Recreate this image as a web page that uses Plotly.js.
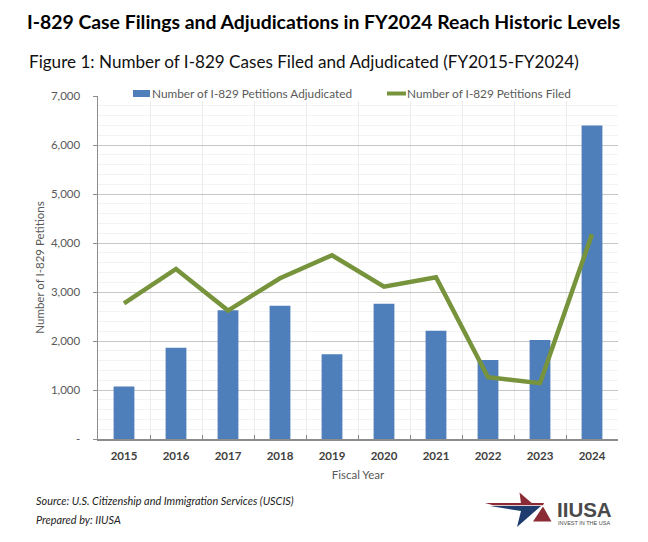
<!DOCTYPE html>
<html>
<head>
<meta charset="utf-8">
<script src="https://cdn.plot.ly/plotly-3.0.1.min.js"></script>
<style>html,body{margin:0;padding:0;background:#fff;}#chart{width:648px;height:542px;}</style>
</head>
<body>
<div id="chart"></div>
<script>
// ---- data ----
const years = ["2015","2016","2017","2018","2019","2020","2021","2022","2023","2024"];
const adjudicated = [1070, 1860, 2630, 2720, 1730, 2760, 2210, 1610, 2020, 6400];
const filed = [2770, 3470, 2620, 3280, 3750, 3110, 3300, 1260, 1140, 4180];
const yTickVals = [0, 1000, 2000, 3000, 4000, 5000, 6000, 7000];
const yTickText = ["-", "1,000", "2,000", "3,000", "4,000", "5,000", "6,000", "7,000"];
const seriesNames = ["Number of I-829 Petitions Adjudicated", "Number of I-829 Petitions Filed"];
const titleText = "I-829 Case Filings and Adjudications in FY2024 Reach Historic Levels";
const subtitleText = "Figure 1: Number of I-829 Cases Filed and Adjudicated (FY2015-FY2024)";
const sourceText = "Source: U.S. Citizenship and Immigration Services (USCIS)";
const preparedText = "Prepared by: IIUSA";

// ---- geometry helpers (pixel -> paper) ----
const L = 98, R = 30, T = 96, B = 103, W = 648, H = 542;
const PW = W - L - R, PH = H - T - B;
const px = X => (X - L) / PW;
const py = Y => (H - B - Y) / PH;

const FONT = "Lato, 'Open Sans', sans-serif";
const BLUE = "#4f7fbb";
const GREEN = "#77933c";

const traces = [
  {type: "bar", x: years, y: adjudicated, name: seriesNames[0],
   marker: {color: BLUE}, hoverinfo: "skip"},
  {type: "scatter", mode: "lines", x: years, y: filed, name: seriesNames[1],
   line: {color: GREEN, width: 4.5}, hoverinfo: "skip"}
];

const shapes = [
  // legend background covering top gridline
  {type: "rect", xref: "paper", yref: "paper", x0: px(99.5), x1: px(603), y0: py(101), y1: py(86),
   fillcolor: "#ffffff", line: {width: 0}, layer: "above"},
  {type: "rect", xref: "paper", yref: "paper", x0: px(133), x1: px(150), y0: py(97), y1: py(90),
   fillcolor: BLUE, line: {width: 0}, layer: "above"},
  {type: "line", xref: "paper", yref: "paper", x0: px(387), x1: px(406), y0: py(93.5), y1: py(93.5),
   line: {color: GREEN, width: 4}, layer: "above"},
  // logo: star pieces
  {type: "path", xref: "paper", yref: "paper", layer: "above", fillcolor: "#8b2b35", line: {width: 0},
   path: `M${px(519.5)},${py(492.5)} L${px(532)},${py(503.2)} L${px(521)},${py(503.2)} Z`},
  {type: "path", xref: "paper", yref: "paper", layer: "above", fillcolor: "#8b2b35", line: {width: 0},
   path: `M${px(485)},${py(503)} L${px(544)},${py(503)} L${px(543)},${py(505.3)} L${px(493)},${py(505.3)} Z`},
  {type: "path", xref: "paper", yref: "paper", layer: "above", fillcolor: "#1f3c6e", line: {width: 0},
   path: `M${px(490)},${py(506)} L${px(541)},${py(506)} L${px(517)},${py(527)} L${px(521)},${py(511)} Z`},
  {type: "path", xref: "paper", yref: "paper", layer: "above", fillcolor: "#8b2b35", line: {width: 0},
   path: `M${px(543)},${py(506.5)} L${px(551.5)},${py(521.5)} L${px(533)},${py(521.5)} Z`}
];

const annotations = [
  {xref: "paper", yref: "paper", x: px(27), y: py(62), xanchor: "left", yanchor: "middle",
   text: subtitleText, showarrow: false, font: {family: FONT, size: 17.1, color: "#111111"}},
  {xref: "paper", yref: "paper", x: px(150), y: py(93.5), xanchor: "left", yanchor: "middle",
   text: seriesNames[0], showarrow: false, font: {family: FONT, size: 11.8, color: "#595959"}},
  {xref: "paper", yref: "paper", x: px(405), y: py(93.5), xanchor: "left", yanchor: "middle",
   text: seriesNames[1], showarrow: false, font: {family: FONT, size: 11.8, color: "#595959"}},
  {xref: "paper", yref: "paper", x: px(34), y: py(500), xanchor: "left", yanchor: "middle",
   text: "<i>" + sourceText + "</i>", showarrow: false, font: {family: FONT, size: 10.9, color: "#222222"}},
  {xref: "paper", yref: "paper", x: px(34), y: py(519), xanchor: "left", yanchor: "middle",
   text: "<i>" + preparedText + "</i>", showarrow: false, font: {family: FONT, size: 10.9, color: "#222222"}},
  {xref: "paper", yref: "paper", x: px(555), y: py(510), xanchor: "left", yanchor: "middle",
   text: "<b>IIUSA</b>", showarrow: false, font: {family: "'Liberation Sans', Arial, sans-serif", size: 20.5, color: "#4a4a4a"}},
  {xref: "paper", yref: "paper", x: px(556), y: py(523), xanchor: "left", yanchor: "middle",
   text: "INVEST IN THE USA", showarrow: false, font: {family: "'Liberation Sans', Arial, sans-serif", size: 5.5, color: "#4a4a4a"}}
];

const layout = {
  width: W, height: H,
  margin: {l: L, r: R, t: T, b: B, pad: 0},
  paper_bgcolor: "#ffffff", plot_bgcolor: "#ffffff",
  showlegend: false,
  bargap: 0.6,
  title: {text: titleText, x: 27 / W, xanchor: "left", xref: "container",
          y: 1 - 22 / H, yanchor: "middle", yref: "container",
          font: {family: FONT, size: 19.4, color: "#000000", weight: "bold"}},
  xaxis: {type: "category", tickson: "boundaries", ticks: "inside", ticklen: 4, tickcolor: "#8c8c8c",
          showgrid: true, gridcolor: "#ececec", gridwidth: 1,
          showline: true, linecolor: "#8c8c8c", linewidth: 1.5,
          tickfont: {family: FONT, size: 11.5, color: "#404040", weight: "bold"},
          ticklabelstandoff: 6,
          title: {text: "Fiscal Year", standoff: 9, font: {family: FONT, size: 11.5, color: "#595959"}},
          fixedrange: true},
  yaxis: {range: [0, 7000], tickvals: yTickVals, ticktext: yTickText,
          ticks: "outside", ticklen: 4, tickcolor: "#8c8c8c",
          showline: true, linecolor: "#8c8c8c", linewidth: 1.5,
          showgrid: true, gridcolor: "#c6c6c6", gridwidth: 1, zeroline: false,
          minor: {dtick: 200, showgrid: true, gridcolor: "#f3f3f3", ticks: ""},
          tickfont: {family: FONT, size: 11.5, color: "#595959"},
          ticklabelstandoff: 10,
          title: {text: "Number of I-829 Petitions", standoff: 4, font: {family: FONT, size: 11.5, color: "#595959"}},
          fixedrange: true},
  shapes: shapes,
  annotations: annotations
};

Plotly.newPlot("chart", traces, layout, {displayModeBar: false, staticPlot: true});
</script>
</body>
</html>
